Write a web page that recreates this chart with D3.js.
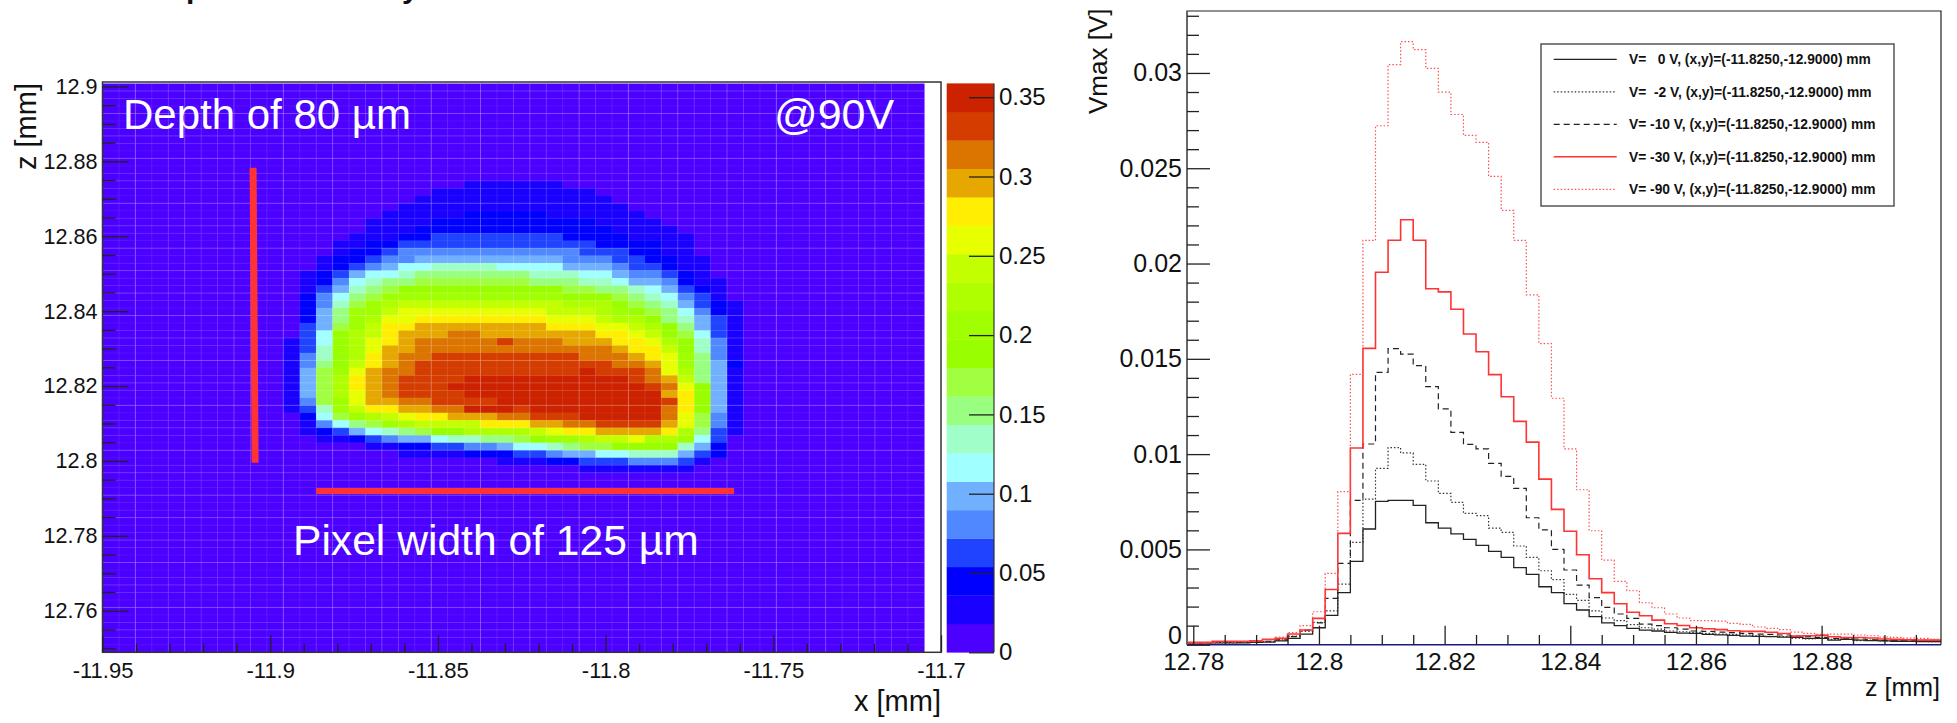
<!DOCTYPE html>
<html>
<head>
<meta charset="utf-8">
<style>
  body { margin: 0; background: #fff; }
  text { font-family: "Liberation Sans", Arial, sans-serif; fill: #111; }
  .axis path.domain { display: none; }
  .axis line { stroke: #222; stroke-width: 1.3; }
</style>
<script src="https://cdn.jsdelivr.net/npm/d3@7"></script>
</head>
<body>
<script>
// ---- left panel data: Vmax map at 90 V, levels ----
// rows are counted from the top of the map, one character per bin (base 20 level of the palette)
var heatFirstRow = 13;
var heatStartCol = [22,20,19,18,17,16,16,15,14,14,13,13,12,12,12,12,12,12,12,12,12,11,11,11,11,11,11,11,11,11,11,12,12,12,13,16,18,24,29];
var heatLevels = [
  "111111",
  "1111111111",
  "111111111111",
  "11111111111111",
  "1111122222111111",
  "111122222222221111",
  "1112222222222221111",
  "111223333333322221111",
  "1122333333333333222211",
  "1223444444444443332211",
  "122344555555555444332211",
  "123456677776666555433211",
  "1235667888888877766544321",
  "12467889999999888776554211",
  "135789aaaaaaaaaa9988765321",
  "24689bbbbbbbbbbbaaa9876431",
  "2479bcddddddddddccca9875321",
  "258bbdeeeeeeeeedddcba986421",
  "258bceeffffffffeeedcca87531",
  "359bdffggggggggfffeedca8531",
  "36acdfggghhgggggggffeda9631",
  "136acefghhhhhihhhgggffeca741",
  "137acegghhhhhhhhhhhhgffda741",
  "147acfghhiiiiiiiiihhhgfeb841",
  "148adfghiiiiiiiiiiiihhgeb852",
  "159beghhiiiiiiiiiijiiihec851",
  "159cfghiiiijjjjjjjjjjihgd851",
  "159cfghiiijjjjjjjjjjjjihea51",
  "159ceghiiiijjjjjjjjjjjjgfa51",
  "149begghhiiiijjjjjjjjjjifa51",
  "137bdffgghhjjjijjjjjjjjhfa51",
  "269bcdeffggghhiiijjjjjhe941",
  "14689bcddddfffgghhiiiige941",
  "12356789aaccccdeffggggfc831",
  "1123455677889abbcddeccb63",
  "112233445667899aaaa752",
  "11112223345566777532",
  "1112233344431",
  "1111111"
];
var palette = ["#4c00ff","#1a00ff","#0000ff","#1f43ff","#5088ff","#70b0ff","#a0ffff","#a0ffc8","#99ff80","#a0ff40",
               "#99ff00","#a0ff00","#b0ff00","#c4ff00","#e8ff00","#ffee00","#e6a800","#dc7500","#d43c00","#cc2200"];
var zMax = 0.3587;
var mapXTicks = [-11.95, -11.9, -11.85, -11.8, -11.75, -11.7];
var mapYTicks = [12.76, 12.78, 12.8, 12.82, 12.84, 12.86, 12.88, 12.9];
var barTicks = [0, 0.05, 0.1, 0.15, 0.2, 0.25, 0.3, 0.35];
var depthBar = [[-11.9051, 12.8783], [-11.9045, 12.7995]];
var widthBar = [[-11.8863, 12.792], [-11.7617, 12.792]];

// ---- right panel data: Vmax per z bin, one array per bias voltage ----
var v0 = [.0001,.0001,.0001,.0001,.0001,.00012,.00014,.0002,.00033,.00056,
  .00089,.00154,.00273,.00437,.00607,.00752,.00757,.00757,.00731,.0064,
  .00612,.00581,.00553,.00521,.0049,.00458,.00404,.00369,.00304,.00273,
  .00215,.00182,.00147,.00115,.001,.00086,.00077,.00072,.00065,.00061,
  .00059,.00054,.00052,.00049,.00045,.00044,.00042,.0004,.00038,.00033,
  .00033,.00024,.00028,.00024,.00021,.0002,.00018,.00018,.00016,.00016];
var v2 = [.00008,.0001,.0001,.0001,.00012,.00014,.00016,.00025,.00045,.0007,
  .00117,.00178,.00318,.00537,.00764,.00925,.01034,.01006,.00946,.00859,
  .00794,.00747,.00689,.00677,.00612,.00589,.00518,.00458,.00388,.00341,
  .00264,.00233,.00178,.0014,.00126,.00105,.00089,.00082,.00072,.00068,
  .00065,.00059,.00056,.00054,.00051,.00047,.00044,.00042,.00035,.00031,
  .00035,.00028,.00031,.00021,.00024,.0002,.0002,.00018,.00018,.00016];
var v10 = [.0001,.0001,.00012,.00012,.00014,.00016,.00018,.00025,.00042,.00077,
  .00115,.00243,.00427,.00757,.01053,.01429,.01553,.01525,.01464,.01354,
  .01237,.01114,.01051,.01028,.00951,.00883,.0082,.00666,.00603,.005,
  .00392,.00313,.00247,.00196,.00161,.00138,.00108,.001,.00089,.00082,
  .00072,.0007,.00066,.00063,.00059,.00056,.00054,.00051,.00045,.00042,
  .00038,.00033,.00031,.0003,.00026,.00023,.00023,.00023,.00023,.00023];
var v30 = [.00012,.00012,.00018,.00018,.00018,.0002,.00028,.00033,.00056,.00077,
  .00138,.0029,.00584,.01032,.01555,.01954,.02122,.0223,.02122,.01868,
  .01851,.0176,.0163,.01537,.01417,.01301,.01172,.01063,.00869,.0071,
  .00595,.00472,.00346,.00273,.00215,.0017,.00152,.00129,.0011,.00101,
  .00089,.00084,.00079,.00073,.0007,.0007,.00065,.00059,.00045,.00047,
  .00049,.00042,.00038,.00038,.00035,.0003,.00028,.00026,.00024,.00024];
var v90 = [.00008,.0001,.00012,.00014,.00016,.0002,.00026,.0004,.00063,.001,
  .00173,.00374,.00803,.01418,.02122,.02723,.03044,.03164,.03122,.03024,
  .02899,.02782,.02672,.02636,.02457,.02279,.02122,.01836,.0158,.01293,
  .01028,.00813,.00598,.00444,.00332,.00283,.0022,.00194,.00161,.0014,
  .00126,.00126,.00124,.00112,.00107,.00093,.00086,.00079,.00066,.00059,
  .00054,.00056,.00056,.00051,.00047,.0004,.00038,.00035,.00033,.0003];
var seriesLabels = ["V=   0 V, (x,y)=(-11.8250,-12.9000) mm", "V=  -2 V, (x,y)=(-11.8250,-12.9000) mm",
  "V= -10 V, (x,y)=(-11.8250,-12.9000) mm", "V= -30 V, (x,y)=(-11.8250,-12.9000) mm", "V= -90 V, (x,y)=(-11.8250,-12.9000) mm"];
var seriesColors = ["#222", "#333", "#222", "#ff3333", "#ff5050"];
var seriesDash = [null, "1.5 2", "6 4", null, "1.5 2"];
var seriesWidth = [1.3, 1.2, 1.2, 1.6, 1.2];
var histXTicks = [12.78, 12.8, 12.82, 12.84, 12.86, 12.88];
var histYTicks = [0, 0.005, 0.01, 0.015, 0.02, 0.025, 0.03];

var svg = d3.select("body").append("svg")
  .attr("width", 1957).attr("height", 723);

// ---------- left panel ----------
var x = d3.scaleLinear().domain([-11.95, -11.7]).range([102.5, 941]);
var y = d3.scaleLinear().domain([12.7489, 12.9012]).range([652.3, 82]);
var colX = d3.scaleBand().domain(d3.range(50)).range([x(-11.95), x(-11.705)]);
var rowY = d3.scaleBand().domain(d3.range(76)).range([y(12.9008), y(12.7489)]);
var color = d3.scaleQuantize().domain([0, zMax]).range(palette);

function levelValue(ch) {
  return (parseInt(ch, 20) + 0.5) * zMax / palette.length;
}

var cells = [];
d3.range(76).forEach(function (r) {
  d3.range(50).forEach(function (c) {
    var row = heatLevels[r - heatFirstRow];
    var ch = row ? row[c - heatStartCol[r - heatFirstRow]] : null;
    cells.push({ r: r, c: c, v: levelValue(ch || "0") });
  });
});

var map = svg.append("g");
map.selectAll("rect.cell").data(cells).enter().append("rect")
  .attr("class", "cell")
  .attr("x", function (d) { return colX(d.c); })
  .attr("y", function (d) { return rowY(d.r); })
  .attr("width", colX.bandwidth() + 0.3)
  .attr("height", rowY.bandwidth() + 0.3)
  .attr("fill", function (d) { return color(d.v); });

// faint seams between the bins, as in the pdf rendering
map.selectAll("line.vseam").data(d3.range(1, 50)).enter().append("line")
  .attr("x1", function (d) { return colX(d); })
  .attr("x2", function (d) { return colX(d); })
  .attr("y1", y(12.9008)).attr("y2", y(12.7489))
  .attr("stroke", "#fff").attr("stroke-opacity", function (d) { return d % 3 == 2 ? 0.24 : 0.1; });
map.selectAll("line.hseam").data(d3.range(1, 76)).enter().append("line")
  .attr("y1", function (d) { return rowY(d); })
  .attr("y2", function (d) { return rowY(d); })
  .attr("x1", x(-11.95)).attr("x2", x(-11.705))
  .attr("stroke", "#fff").attr("stroke-opacity", function (d) { return d % 3 == 1 ? 0.2 : 0.06; });

var line = d3.line().x(function (d) { return x(d[0]); }).y(function (d) { return y(d[1]); });
[depthBar, widthBar].forEach(function (b, i) {
  svg.append("path").attr("d", line(b)).attr("fill", "none")
    .attr("stroke", "#ff3333").attr("stroke-width", i == 0 ? 7 : 6);
});

svg.append("rect").attr("x", x(-11.95)).attr("y", y(12.9012))
  .attr("width", x(-11.7) - x(-11.95)).attr("height", y(12.7489) - y(12.9012))
  .attr("fill", "none").attr("stroke", "#333").attr("stroke-width", 1.5);

// ticks go inwards, ROOT style
svg.append("g").attr("class", "axis").attr("transform", "translate(102.5,0)")
  .call(d3.axisLeft(y).tickValues(mapYTicks).tickSize(-26).tickPadding(5).tickFormat(String))
  .selectAll("text").attr("font-size", 21.6);
svg.append("g").attr("class", "axis").attr("transform", "translate(102.5,0)")
  .call(d3.axisLeft(y).tickValues(d3.range(12.75, 12.901, 0.005).filter(function (d) {
    return mapYTicks.indexOf(+d.toFixed(3)) < 0;
  })).tickSize(-13).tickFormat(""));
svg.append("g").attr("class", "axis").attr("transform", "translate(0,652.3)")
  .call(d3.axisBottom(x).tickValues(mapXTicks).tickSize(-17).tickPadding(10).tickFormat(String))
  .selectAll("text").attr("font-size", 22);
svg.append("g").attr("class", "axis").attr("transform", "translate(0,652.3)")
  .call(d3.axisBottom(x).tickValues(d3.range(25).map(function (i) { return -11.95 + i * 0.01; }).filter(function (d, i) {
    return i % 5 != 0;
  })).tickSize(-8.5).tickFormat(""));

// colour bar
var barY = d3.scaleLinear().domain([0, zMax]).range([652.3, 83.4]);
svg.append("g").selectAll("rect").data(palette).enter().append("rect")
  .attr("x", 946.7).attr("width", 47.3)
  .attr("y", function (d, i) { return barY((i + 1) * zMax / palette.length); })
  .attr("height", barY(0) - barY(zMax / palette.length) + 0.3)
  .attr("fill", function (d) { return d; });
svg.append("g").attr("class", "axis").attr("transform", "translate(994,0)")
  .call(d3.axisRight(barY).tickValues(barTicks).tickSize(-25).tickPadding(5).tickFormat(String))
  .selectAll("text").attr("font-size", 24);
svg.append("line").attr("x1", 994).attr("x2", 994).attr("y1", 83.4).attr("y2", 652.3)
  .attr("stroke", "#333").attr("stroke-width", 1.2);

svg.append("text").attr("x", 941).attr("y", 711).attr("text-anchor", "end").attr("font-size", 29).text("x [mm]");
svg.append("text").attr("transform", "translate(36,83) rotate(-90)").attr("text-anchor", "end")
  .attr("font-size", 29).text("z [mm]");

function whiteLabel(px, py, size, label) {
  svg.append("text").attr("x", px).attr("y", py).attr("font-size", size)
    .style("fill", "#fff").text(label);
}
whiteLabel(123, 129, 42, "Depth of 80 µm");
whiteLabel(774, 129, 43, "@90V");
whiteLabel(293, 555, 42.6, "Pixel width of 125 µm");

// descenders of the heading that is cropped off at the top edge
svg.append("text").attr("x", 186).attr("y", -2).attr("font-size", 30).attr("font-weight", "bold").text("p");
svg.append("text").attr("x", 402).attr("y", -2).attr("font-size", 30).attr("font-weight", "bold").text("y");

// ---------- right panel ----------
var hx = d3.scaleLinear().domain([12.779, 12.899]).range([1187, 1941]);
var hy = d3.scaleLinear().domain([0, 0.03325]).range([644.7, 11]);
var binWidth = 0.002;

var step = d3.line().curve(d3.curveStepAfter)
  .x(function (d) { return hx(d[0]); })
  .y(function (d) { return hy(d[1]); });

function histPoints(values) {
  var pts = values.map(function (v, i) { return [12.779 + i * binWidth, v]; });
  pts.push([12.779 + values.length * binWidth, values[values.length - 1]]);
  return pts;
}

[v0, v2, v10, v30, v90].forEach(function (values, i) {
  svg.append("path").attr("d", step(histPoints(values))).attr("fill", "none")
    .attr("stroke", seriesColors[i]).attr("stroke-width", seriesWidth[i])
    .attr("stroke-dasharray", seriesDash[i]);
});

svg.append("path").attr("fill", "none").attr("stroke", "#222").attr("stroke-width", 1.2)
  .attr("d", "M" + hx(12.779) + "," + hy(0) + "V" + hy(0.03325) + "H" + hx(12.899) + "V" + hy(0));
svg.append("line").attr("x1", hx(12.779)).attr("x2", hx(12.899)).attr("y1", hy(0)).attr("y2", hy(0))
  .attr("stroke", "#1a1a80").attr("stroke-width", 1.6);
svg.append("line").attr("x1", hx(12.779)).attr("x2", hx(12.779)).attr("y1", hy(0)).attr("y2", hy(0.03325))
  .attr("stroke", "#666").attr("stroke-width", 1.8);

var histYAxis = svg.append("g").attr("class", "axis").attr("transform", "translate(1187,0)")
  .call(d3.axisLeft(hy).tickValues(histYTicks).tickSize(-23).tickPadding(5).tickFormat(String));
histYAxis.selectAll("text").attr("font-size", 25);
// the zero label sits a little higher so it clears 12.78
histYAxis.selectAll("text").filter(function (d) { return d === 0; }).attr("y", -9);
svg.append("g").attr("class", "axis").attr("transform", "translate(1187,0)")
  .call(d3.axisLeft(hy).tickValues(d3.range(1, 34).filter(function (i) { return i % 5 != 0; }).map(function (i) { return i * 0.001; }))
    .tickSize(-12).tickFormat(""));
svg.append("g").attr("class", "axis").attr("transform", "translate(0,644.7)")
  .call(d3.axisBottom(hx).tickValues(histXTicks).tickSize(-19).tickPadding(8).tickFormat(String))
  .selectAll("text").attr("font-size", 24.5);
svg.append("g").attr("class", "axis").attr("transform", "translate(0,644.7)")
  .call(d3.axisBottom(hx).tickValues(d3.range(0, 24).map(function (i) { return 12.78 + i * 0.005; }).filter(function (d, i) {
    return i % 4 != 0;
  })).tickSize(-9.7).tickFormat(""));

svg.append("text").attr("transform", "translate(1107,114) rotate(-90)").attr("font-size", 26).text("Vmax [V]");
svg.append("text").attr("x", 1940).attr("y", 696).attr("text-anchor", "end").attr("font-size", 25).text("z [mm]");

// legend
svg.append("rect").attr("x", 1541).attr("y", 44).attr("width", 353).attr("height", 162)
  .attr("fill", "#fff").attr("stroke", "#555").attr("stroke-width", 1.5);
var rowsY = d3.scalePoint().domain(d3.range(5)).range([59.3, 189.3]);
seriesLabels.forEach(function (label, i) {
  svg.append("line").attr("x1", 1553.7).attr("x2", 1616.7).attr("y1", rowsY(i)).attr("y2", rowsY(i))
    .attr("stroke", seriesColors[i]).attr("stroke-width", seriesWidth[i])
    .attr("stroke-dasharray", seriesDash[i]);
  svg.append("text").attr("x", 1629).attr("y", rowsY(i) + 5).attr("font-size", 13.8)
    .attr("font-weight", "bold").style("white-space", "pre").text(label);
});
</script>
</body>
</html>
